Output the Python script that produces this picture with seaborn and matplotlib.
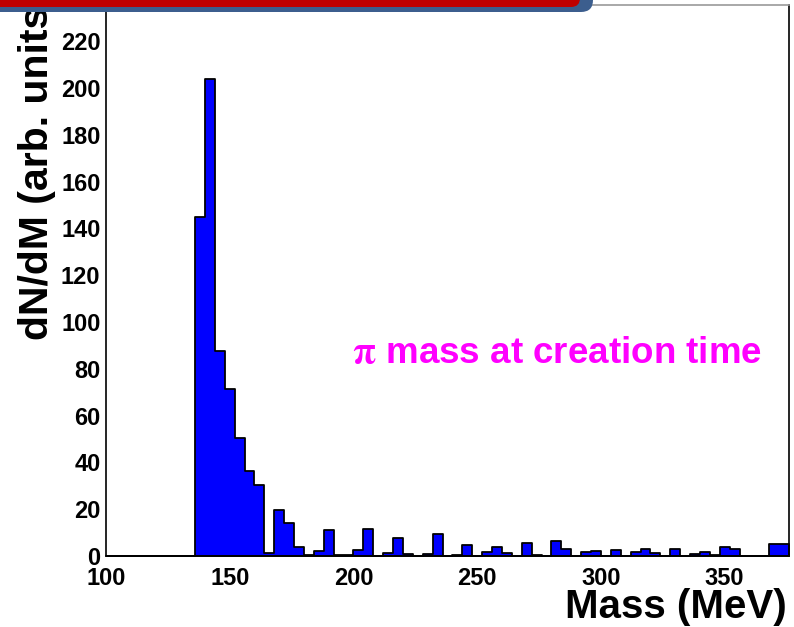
import numpy as np
import pandas as pd
import seaborn as sns
import matplotlib
matplotlib.use("Agg")
import matplotlib.pyplot as plt
from matplotlib.ticker import MultipleLocator
from matplotlib.patches import FancyBboxPatch
from matplotlib.transforms import IdentityTransform

# ---- data: histogram of pion mass, 4 MeV bins from 100 to 376 MeV ----
bin_start = 100
bin_width = 4
counts = [
    0, 0, 0, 0, 0, 0, 0, 0, 0,           # 100-136
    145, 204, 87.5, 71.5, 50.5, 36.5, 30.5, 1.4,   # 136-168
    19.6, 14, 3.9, 0.4, 2.3, 10.9, 0.4, 0.4,       # 168-200
    2.4, 11.4, 0, 1.4, 7.9, 1.0, 0, 0.9,           # 200-232
    9.5, 0, 0.6, 4.6, 0, 1.9, 4.0, 1.4,            # 232-264
    0, 5.4, 0.6, 0, 6.6, 3.0, 0, 1.9,              # 264-296
    2.3, 0, 2.4, 0, 1.9, 3.0, 1.4, 0,              # 296-328
    2.9, 0, 1.0, 1.9, 0.6, 4.0, 2.9, 0,            # 328-360
    0, 0, 5.2, 5.2,                                # 360-376
]
x_ticks = [100, 150, 200, 250, 300, 350]
y_ticks = list(range(0, 221, 20))
x_label = "Mass (MeV)"
y_label = "dN/dM (arb. units)"
note = r"$\mathrm{\pi}$ mass at creation time"

n_bins = len(counts)
bin_end = bin_start + bin_width * n_bins
centers = bin_start + bin_width * (np.arange(n_bins) + 0.5)
df = pd.DataFrame({"mass": centers, "count": counts})

sns.set_style("white")
plt.rcParams["font.family"] = ["Liberation Sans", "DejaVu Sans"]
plt.rcParams["font.weight"] = "bold"
plt.rcParams["mathtext.fontset"] = "stix"
plt.rcParams["text.color"] = "black"
plt.rcParams["xtick.color"] = "black"
plt.rcParams["ytick.color"] = "black"
plt.rcParams["axes.labelcolor"] = "black"

W, H = 794, 627
fig = plt.figure(figsize=(W / 100, H / 100), dpi=100)
ax = fig.add_axes([106 / W, 1 - 556 / H, (789 - 106) / W, (556 - 5) / H])

sns.histplot(data=df, x="mass", weights="count", binwidth=bin_width,
             binrange=(bin_start, bin_end), element="step",
             fill=True, color="#0000FF", alpha=1, edgecolor="black",
             linewidth=1.3, ax=ax)

ax.set_xlim(100, 376)
ax.set_ylim(0, 235.5)
ax.set_xticks(x_ticks)
ax.set_yticks(y_ticks)
ax.xaxis.set_minor_locator(MultipleLocator(25))
ax.yaxis.set_minor_locator(MultipleLocator(5))
ax.tick_params(axis="both", which="both", direction="in", color="black",
               labelcolor="black", width=1.2, top=False, right=False)
ax.tick_params(axis="x", which="major", length=17, pad=8, labelsize=17)
ax.tick_params(axis="x", which="minor", length=9)
ax.tick_params(axis="y", which="major", length=19, pad=4, labelsize=17)
ax.tick_params(axis="y", which="minor", length=11)
for lab in ax.get_xticklabels() + ax.get_yticklabels():
    lab.set_fontweight("bold")
ax.set_xlabel("")
ax.set_ylabel("")
for s in ax.spines.values():
    s.set_color("black")
    s.set_linewidth(1.2)
ax.spines["top"].set_color("#999999")

ax.text(282.3, 86.5, note, color="#FF00FF", fontsize=26.5, fontweight="bold",
        ha="center", va="center")

fig.text(37 / W, 1 - 166 / H, y_label, rotation=90, ha="center", va="center",
         fontsize=29.5, fontweight="bold")
fig.text(787 / W, 1 - 607 / H, x_label, ha="right", va="center",
         fontsize=29, fontweight="bold")

# header banner at top
blue = FancyBboxPatch((-30, H - 12), 623, 40,
                      boxstyle="round,pad=0,rounding_size=12",
                      transform=IdentityTransform(), facecolor="#3C5E8E",
                      edgecolor="none", zorder=10)
red = FancyBboxPatch((-30, H - 7), 610, 40,
                     boxstyle="round,pad=0,rounding_size=9",
                     transform=IdentityTransform(), facecolor="#C00000",
                     edgecolor="none", zorder=11)
fig.add_artist(blue)
fig.add_artist(red)

fig.savefig("out.png", dpi=100, facecolor="white")
